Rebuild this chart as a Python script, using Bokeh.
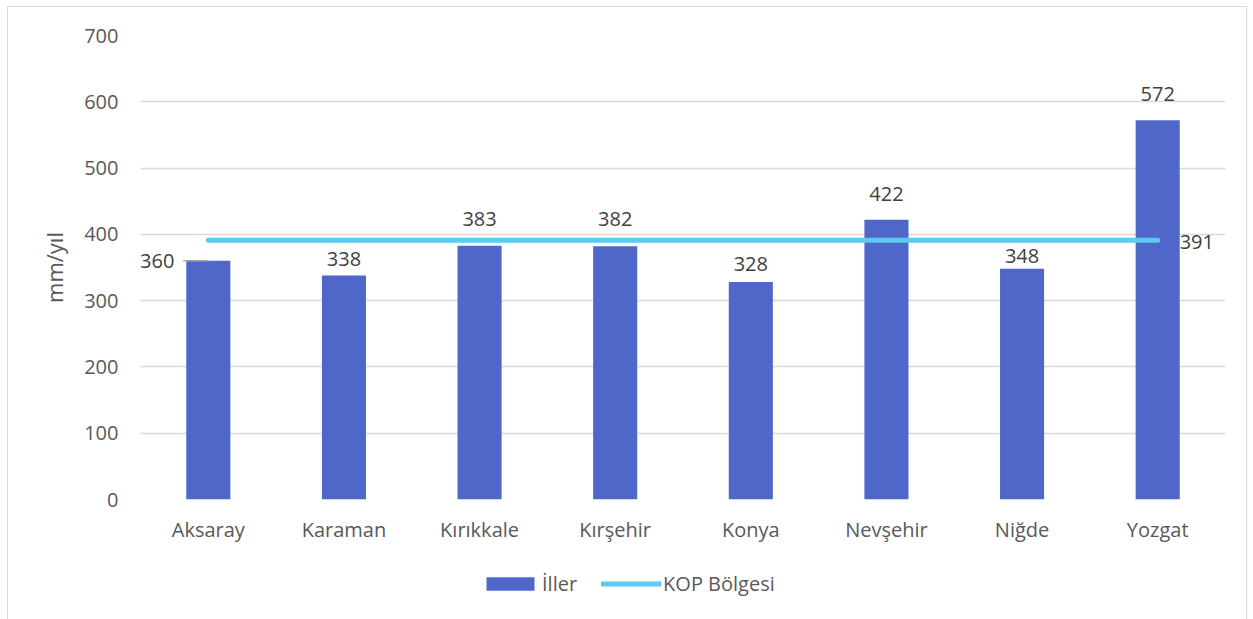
from bokeh.plotting import figure
from bokeh.layouts import column
from bokeh.models import ColumnDataSource, FactorRange, Legend, LegendItem, Range1d
from bokeh.transform import dodge
from bokeh.core.properties import value
from bokeh.embed import file_html
from bokeh.resources import INLINE

# ---- data ----
cities = ["Aksaray", "Karaman", "Kırıkkale", "Kırşehir", "Konya", "Nevşehir", "Niğde", "Yozgat"]
iller = [360, 338, 383, 382, 328, 422, 348, 572]
kop_value = 391
y_ticks = [0, 100, 200, 300, 400, 500, 600, 700]
series_names = ["İller", "KOP Bölgesi"]

# label gaps above the bars (screen px, layout only)
label_gap = [0, 8, 19, 19, 10, 18, 5, 18]

FONT = "Open Sans"
BAR_C = "#4F67C8"
LINE_C = "#5BCBF2"
TICK_C = "#595959"
LBL_C = "#404040"
FS = "20px"

p = figure(x_range=FactorRange(*cities), y_range=Range1d(0, 700),
           width=1238, height=548, output_backend="svg", toolbar_location=None,
           min_border_left=132, min_border_right=21, min_border_top=28, min_border_bottom=56)
p.outline_line_color = None
p.background_fill_color = "white"

src = ColumnDataSource(dict(x=cities, top=iller))
bars = p.vbar(x="x", top="top", width=0.325, source=src, fill_color=BAR_C, line_color=None)

# KOP line
line_src = ColumnDataSource(dict(x=cities, y=[kop_value] * len(cities)))
ln = p.line(x="x", y="y", source=line_src, line_color=LINE_C, line_width=5, line_cap="round")

# data labels (all but first above bars)
lab_src = ColumnDataSource(dict(x=cities[1:], y=iller[1:], lbl=[str(v) for v in iller[1:]],
                                off=[-(g + 8) for g in label_gap[1:]]))
p.text(x="x", y="y", text="lbl", source=lab_src, text_align="center", text_baseline="alphabetic",
       y_offset="off", text_font=value(FONT), text_font_size=FS, text_color=LBL_C)

# first label to the left with leader line
first_src = ColumnDataSource(dict(x=[cities[0]], y=[iller[0]], lbl=[str(iller[0])]))
p.segment(x0=dodge("x", -0.185, range=p.x_range), y0="y", x1=dodge("x", 0.0, range=p.x_range), y1="y",
          source=first_src, line_color="#a6a6a6", line_width=1.5)
p.text(x=dodge("x", -0.25, range=p.x_range), y="y", text="lbl", source=first_src,
       text_align="right", text_baseline="middle",
       text_font=value(FONT), text_font_size=FS, text_color=LBL_C)

# KOP label at line end
kop_src = ColumnDataSource(dict(x=[cities[-1]], y=[kop_value], lbl=[str(kop_value)]))
p.text(x="x", y="y", text="lbl", source=kop_src, x_offset=22, y_offset=2,
       text_align="left", text_baseline="middle",
       text_font=value(FONT), text_font_size=FS, text_color=LBL_C)

# axes
p.yaxis.ticker = y_ticks
p.yaxis.axis_label = "mm/yıl"
p.yaxis.axis_label_text_font = FONT
p.yaxis.axis_label_text_font_size = "22px"
p.yaxis.axis_label_text_font_style = "normal"
p.yaxis.axis_label_text_color = TICK_C
p.yaxis.axis_label_standoff = 12
for ax in (p.xaxis, p.yaxis):
    ax.axis_line_color = None
    ax.major_tick_line_color = None
    ax.minor_tick_line_color = None
    ax.major_tick_out = 0
    ax.major_tick_in = 0
    ax.major_label_text_font = FONT
    ax.major_label_text_font_size = FS
    ax.major_label_text_color = TICK_C
p.yaxis.major_label_standoff = 22
p.xaxis.major_label_standoff = 16

p.xgrid.grid_line_color = None
p.ygrid.grid_line_color = "#d9d9d9"
p.ygrid.grid_line_width = 1.5

# ---- legend strip (hidden copies of the series give the legend its glyphs) ----
pl = figure(x_range=FactorRange(*cities), y_range=Range1d(0, 700),
            width=1238, height=64, output_backend="svg", toolbar_location=None,
            min_border_left=0, min_border_right=0, min_border_top=0, min_border_bottom=0)
pl.axis.visible = False
pl.grid.grid_line_color = None
pl.outline_line_color = None
lb = pl.vbar(x="x", top="top", width=0.325, source=src, fill_color=BAR_C, line_color=None, visible=False)
ll = pl.line(x="x", y="y", source=line_src, line_color=LINE_C, line_width=5, line_cap="round", visible=False)

legend = Legend(items=[LegendItem(label=series_names[0], renderers=[lb]),
                       LegendItem(label=series_names[1], renderers=[ll])],
                orientation="horizontal", location=(340, 22),
                glyph_width=60, glyph_height=17, label_standoff=2, spacing=24,
                padding=0, margin=0, border_line_color=None, background_fill_alpha=0,
                inactive_fill_alpha=0,
                label_text_font=FONT, label_text_font_size=FS, label_text_color=TICK_C)
pl.add_layout(legend)

layout = column(p, pl, spacing=0)
layout.styles = {"border": "1px solid #d9d9d9", "margin": "6px 0 0 7px"}

open("out.html", "w").write(file_html(layout, INLINE))
